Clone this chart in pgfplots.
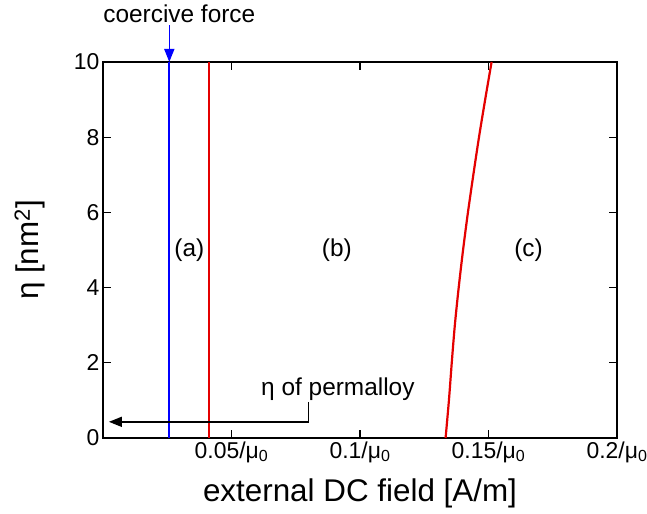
\documentclass[border=0pt]{standalone}
\usepackage{fontspec}
\setmainfont{Liberation Sans}
\usepackage{pgfplots}
\pgfplotsset{compat=1.18}
\usetikzlibrary{arrows.meta}

\definecolor{lineblue}{RGB}{0,0,255}
\definecolor{linered}{RGB}{228,0,0}

\begin{document}
\begin{tikzpicture}
\useasboundingbox (-103bp,-76bp) rectangle (544bp,438bp);
\begin{axis}[
    scale only axis,
    width=514bp, height=376bp,
    xmin=0, xmax=0.2, ymin=0, ymax=10,
    xtick={0.05,0.1,0.15,0.2},
    xticklabels={0.05/μ\textsubscript{0}, 0.1/μ\textsubscript{0}, 0.15/μ\textsubscript{0}, 0.2/μ\textsubscript{0}},
    ytick={0,2,4,6,8,10},
    /pgf/number format/assume math mode=true,
    clip=false,
    axis line style={line width=1.2bp},
    major tick length=8bp,
    tick style={line width=1.2bp, black},
    tick label style={font=\fontsize{23}{26}\selectfont},
    xlabel={external DC field [A/m]},
    ylabel={η [nm\textsuperscript{2}]},
    label style={font=\fontsize{31.5}{36}\selectfont},
    xlabel style={at={(axis description cs:0.5,-0.170)}, anchor=base},
    ylabel style={at={(axis description cs:-0.142,0.5)}, anchor=center},
]
% boundaries
\addplot[lineblue, line width=2.2bp] coordinates {(0.0258,0) (0.0258,10)};
\addplot[linered, line width=2.2bp] coordinates {(0.0414,0) (0.0414,10)};
\addplot[linered, line width=2.2bp, smooth] coordinates {
    (0.1333,0) (0.1346,1) (0.1357,2) (0.1369,3) (0.1384,4) (0.1401,5)
    (0.1420,6) (0.1441,7) (0.1463,8) (0.1487,9) (0.1512,10)
};

% annotations
\node[font=\fontsize{24.5}{28}\selectfont] at (axis cs:0.0336,5) {(a)};
\node[font=\fontsize{24.5}{28}\selectfont] at (axis cs:0.091,5) {(b)};
\node[font=\fontsize{24.5}{28}\selectfont] at (axis cs:0.1656,5) {(c)};

\node[font=\fontsize{24.5}{28}\selectfont, anchor=base] at (axis cs:0.0297,11.06) {coercive force};
\draw[lineblue, line width=1.5bp, -{Triangle[length=13bp,width=10bp]}]
    (axis cs:0.0258,10.98) -- (axis cs:0.0258,10);

\node[font=\fontsize{24.5}{28}\selectfont, anchor=base] at (axis cs:0.0914,1.14) {η of permalloy};
\draw[black, line width=1.5bp, -{Triangle[length=13bp,width=10bp]}]
    (axis cs:0.08,0.96) -- (axis cs:0.08,0.43) -- (axis cs:0.0023,0.43);
\end{axis}
\end{tikzpicture}
\end{document}
